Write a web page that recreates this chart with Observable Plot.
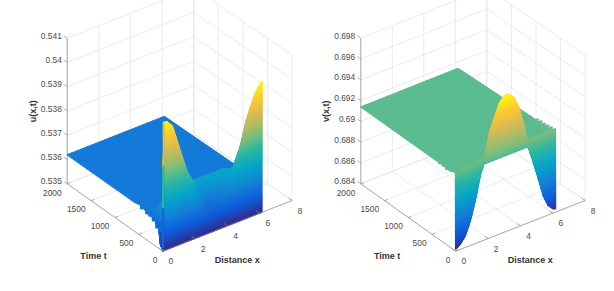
<!DOCTYPE html>
<html><head><meta charset="utf-8">
<script src="https://cdn.jsdelivr.net/npm/d3@7"></script>
<script src="https://cdn.jsdelivr.net/npm/@observablehq/plot@0.6"></script>
<style>
html,body{margin:0;padding:0;background:#fff}
#c{display:flex;width:614px;height:291px;overflow:hidden}
#c svg{display:block;flex:none}
</style></head><body><div id="c"></div>
<script>
const parula = ["#352A87","#0F5CDD","#1481D6","#06A4CA","#2EB7A4","#87BF77","#D1BB59","#FEC832","#F9FB0E"];
const xTicks = [0,2,4,6,8];
const tTicks = [0,500,1000,1500,2000];
const uTicks = [0.535,0.536,0.537,0.538,0.539,0.54,0.541];
const vTicks = [0.684,0.686,0.688,0.69,0.692,0.694,0.696,0.698];
const uTickText = ["0.535","0.536","0.537","0.538","0.539","0.54","0.541"];
const vTickText = ["0.684","0.686","0.688","0.69","0.692","0.694","0.696","0.698"];

const uX = [0,0.06,0.3,0.6,0.9,1.2,1.5,1.8,2.1,2.4,2.7,3,3.3,3.6,3.9,4.2,4.5,4.8,5.1,5.4,5.7,6,6.14];
const uT = [2000,600,450,300,220,150,85,50,8,1,0];
const u2000 = [.5362,.5362,.5362,.5362,.5362,.5362,.5362,.5362,.5362,.5362,.5362,.5362,.5362,.5362,.5362,.5362,.5362,.5362,.5362,.5362,.5362,.5362,.5362];
const u600  = [.5362,.5362,.5362,.5362,.5362,.5362,.5362,.5362,.5362,.5362,.5362,.5362,.5362,.5362,.5362,.5362,.5362,.5362,.5362,.5362,.5362,.5362,.5362];
const u450  = [.5363,.5362,.5362,.5362,.5362,.5362,.5362,.5362,.5363,.5363,.5363,.5363,.5363,.5363,.5363,.5363,.5362,.5362,.5362,.5362,.5362,.5362,.5362];
const u300  = [.5361,.5362,.5362,.5362,.5362,.5363,.5364,.5365,.5366,.5366,.5366,.5366,.5366,.5366,.5366,.5366,.5364,.5364,.5364,.5364,.5364,.5364,.5364];
const u220  = [.5361,.5363,.5364,.5365,.5366,.5367,.5367,.5368,.5369,.5369,.5369,.5369,.5369,.5369,.5369,.5369,.5367,.5367,.5367,.5367,.5367,.5367,.5367];
const u150  = [.5360,.5364,.5367,.5369,.5370,.5371,.5371,.5371,.5371,.5371,.5371,.5371,.5371,.5371,.5371,.5371,.5370,.5370,.5370,.5370,.5370,.5370,.5370];
const u85   = [.5358,.5366,.5369,.5371,.5371,.5371,.5371,.5371,.5369,.5366,.5364,.5363,.5364,.5366,.5368,.5370,.5370,.5370,.5370,.5370,.5370,.5370,.5370];
const u50   = [.5352,.5367,.5370,.5372,.5372,.5372,.5372,.5371,.5368,.5364,.5361,.5359,.5361,.5364,.5366,.5369,.5370,.5370,.5370,.5370,.5370,.5370,.5370];
const u8    = [.5351,.5368,.5372,.5375,.5375,.5374,.5372,.5370,.5366,.5362,.5358,.5356,.5358,.5362,.5365,.5368,.5370,.5370,.5370,.5370,.5370,.5370,.5370];
const u1    = [.5350,.5403,.54025,.5400,.5393,.5386,.5379,.5375,.5369,.5364,.5358,.5353,.5357,.5361,.5365,.5370,.5376,.5381,.5389,.5395,.5400,.5403,.5404];
const u0    = [.535,.535,.535,.535,.535,.535,.535,.535,.535,.535,.535,.535,.535,.535,.535,.535,.535,.535,.535,.535,.535,.535,.535];
// saw-tooth rim of the surface along x = 0
const uStairT = [670,570,465,360,290,220,150,85];
const uStairZ = [.5362,.5363,.5363,.5362,.5361,.5361,.5360,.5358];

const vX = [0,0.05,0.3,0.6,0.9,1.2,1.5,1.75,1.95,2.1,2.4,2.7,3,3.2,3.4,3.6,3.9,4.2,4.4,4.5,4.8,5.1,5.4,5.7,6,6.18];
const vT = [2000,250,100,40,3,0];
const v2000 = [.6914,.6914,.6914,.6914,.6914,.6914,.6914,.6914,.6914,.6914,.6914,.6914,.6914,.6914,.6914,.6914,.6914,.6914,.6914,.6914,.6914,.6914,.6914,.6914,.6914,.6914];
const v250  = [.6914,.6914,.6914,.6914,.6914,.6914,.6914,.6914,.6914,.6914,.6914,.6914,.6914,.6914,.6914,.6914,.6914,.6914,.6914,.6914,.6914,.6914,.6914,.6914,.6915,.6916];
const v100  = [.6914,.6914,.6914,.6915,.6915,.6915,.6915,.6915,.6915,.6915,.6915,.6915,.6915,.6915,.6915,.6915,.6915,.6915,.6915,.6915,.6915,.6915,.6915,.6915,.6916,.6917];
const v40   = [.6915,.6915,.6916,.6917,.6917,.6917,.6917,.6917,.6917,.6917,.6917,.6917,.6917,.6917,.6917,.6917,.6917,.6917,.6917,.6917,.6917,.6917,.6917,.6918,.6918,.6918];
const v3    = [.6916,.6916,.6917,.6918,.6918,.6918,.6918,.6918,.6930,.6942,.6954,.6966,.6971,.6972,.6969,.6966,.6955,.6937,.6922,.6920,.6920,.6920,.6920,.6920,.6920,.6920];
const v0    = [.6842,.6842,.6845,.6851,.6863,.6880,.6902,.6913,.6913,.6913,.6913,.6913,.6913,.6913,.6913,.6913,.6913,.6913,.6913,.6911,.6895,.6878,.6860,.6849,.6844,.6843];
const vStairT = [425,360,285,215,145,75];
const vStairZ = [.6915,.6915,.6914,.6914,.6913,.6914];
const vEndT = [400,330,260,190,120,50];
const vEndZ = [.69165,.6917,.6917,.69175,.6918,.6918];

const FONT = "'Liberation Sans', Arial, Helvetica, sans-serif";
const XMAX = 8, TMAX = 2000;

function panel(o) {
  const {X, T, rows, zTicks, zText, colorDomain, floor, zLabel, zLabelX, zTextX, timeLabel, distLabel, stairs} = o;
  const z0 = zTicks[0], zN = zTicks[zTicks.length-1];
  const zpx = 145.6 / (zN - z0);
  const P = (x,t,z) => {
    const a = x/XMAX, b = t/TMAX;
    const fx = (1-a)*(1-b)*floor.O[0] + a*(1-b)*floor.X[0] + (1-a)*b*floor.T[0] + a*b*floor.B[0];
    const fy = (1-a)*(1-b)*floor.O[1] + a*(1-b)*floor.X[1] + (1-a)*b*floor.T[1] + a*b*floor.B[1];
    return [fx, fy - (z - z0)*zpx];
  };
  const poly = [];
  let id = 0;
  for (let r = 0; r < T.length-1; r++) {
    for (let c = X.length-2; c >= 0; c--) {
      const t0=T[r], t1=T[r+1], x0=X[c], x1=X[c+1];
      const zz=[rows[r][c],rows[r][c+1],rows[r+1][c],rows[r+1][c+1]];
      const tall = (Math.max(...zz)-Math.min(...zz))*zpx;
      const n = Math.min(70, Math.ceil(tall/1.6)+1), m = tall>6 ? 3 : 1;
      for (let i=n-1;i>=0;i--) for (let j=m-1;j>=0;j--) {
        const f=(a,b)=>{const zv=(1-a)*(1-b)*zz[0]+a*(1-b)*zz[1]+(1-a)*b*zz[2]+a*b*zz[3];
          return {p:P(x0+(x1-x0)*a,t0+(t1-t0)*b,zv),z:zv};};
        const q=[f(j/m,i/n),f((j+1)/m,i/n),f((j+1)/m,(i+1)/n),f(j/m,(i+1)/n)];
        const zm=(q[0].z+q[1].z+q[2].z+q[3].z)/4;
        id++;
        for (const k of q) poly.push({id,sx:k.p[0],sy:k.p[1],z:zm});
      }
    }
  }
  // saw-tooth rims
  const steps=[];
  for (const s of stairs) for (let i=0;i<s.T.length-1;i++){
    const a=P(s.x,s.T[i],s.Z[i]), b=P(s.x,s.T[i+1],s.Z[i+1]);
    steps.push({x1:Math.min(a[0],b[0]),x2:Math.max(a[0],b[0]),y1:Math.min(a[1],b[1]),y2:Math.max(a[1],b[1]),z:(s.Z[i]+s.Z[i+1])/2});
  }
  const seg=(a,b)=>{const p=P(...a),q=P(...b);return {x1:p[0],y1:p[1],x2:q[0],y2:q[1]};};
  const grid=[];
  for (const x of xTicks){ grid.push(seg([x,0,z0],[x,TMAX,z0])); grid.push(seg([x,TMAX,z0],[x,TMAX,zN])); }
  for (const t of tTicks){ grid.push(seg([0,t,z0],[XMAX,t,z0])); grid.push(seg([XMAX,t,z0],[XMAX,t,zN])); }
  for (const z of zTicks){ grid.push(seg([0,TMAX,z],[XMAX,TMAX,z])); grid.push(seg([XMAX,TMAX,z],[XMAX,0,z])); }
  const axes=[seg([0,0,z0],[XMAX,0,z0]),seg([0,0,z0],[0,TMAX,z0]),seg([0,TMAX,z0],[0,TMAX,zN])];
  for (const x of xTicks) axes.push(seg([x,0,z0],[x,70,z0]));
  for (const t of tTicks) axes.push(seg([0,t,z0],[0.2,t,z0]));
  for (const z of zTicks) axes.push(seg([0,TMAX,z],[0,TMAX+70,z]));
  const labels=[];
  xTicks.forEach(x=>{const p=P(x,0,z0);labels.push({sx:p[0]+8,sy:p[1]+10.5,text:String(x),anchor:"middle"});});
  tTicks.forEach(t=>{const p=P(0,t,z0);labels.push({sx:p[0]-5.5,sy:p[1]+9,text:String(t),anchor:"end"});});
  zTicks.forEach((z,i)=>{const p=P(0,TMAX,z);labels.push({sx:zTextX,sy:p[1]-2.2,text:zText[i],anchor:"end"});});

  return Plot.plot({
    width:307,height:291,margin:0,
    style:{fontFamily:FONT,background:"#fff"},
    x:{domain:[0,307],range:[0,307],axis:null},
    y:{domain:[0,291],range:[0,291],axis:null},
    color:{type:"linear",domain:colorDomain,interpolate:d3.piecewise(d3.interpolateRgb,parula)},
    marks:[
      Plot.link(grid,{x1:"x1",y1:"y1",x2:"x2",y2:"y2",stroke:"#e3e3e3",strokeWidth:0.7}),
      Plot.rect(steps,{x1:"x1",x2:"x2",y1:"y1",y2:"y2",fill:"z"}),
      Plot.line(poly,{x:"sx",y:"sy",z:"id",fill:"z",stroke:"z",strokeWidth:1,curve:"linear-closed"}),
      Plot.link(axes,{x1:"x1",y1:"y1",x2:"x2",y2:"y2",stroke:"#8c8c8c",strokeWidth:0.7}),
      Plot.text(labels.filter(d=>d.anchor==="end"),{x:"sx",y:"sy",text:"text",textAnchor:"end",fontSize:8.4,fill:"#4a4a4a"}),
      Plot.text(labels.filter(d=>d.anchor==="middle"),{x:"sx",y:"sy",text:"text",textAnchor:"middle",fontSize:8.4,fill:"#4a4a4a"}),
      Plot.text([zLabel],{x:zLabelX,y:110.7,text:d=>d,rotate:-90,fontSize:9,fontWeight:"bold",fill:"#333"}),
      Plot.text(["Time t"],{x:timeLabel[0],y:timeLabel[1],text:d=>d,fontSize:9,fontWeight:"bold",fill:"#333"}),
      Plot.text(["Distance x"],{x:distLabel[0],y:distLabel[1],text:d=>d,fontSize:9,fontWeight:"bold",fill:"#333"})
    ]
  });
}
const host=document.getElementById("c");
host.append(panel({
  X:uX,T:uT,rows:[u2000,u600,u450,u300,u220,u150,u85,u50,u8,u1,u0],
  zTicks:uTicks,zText:uTickText,colorDomain:[0.535,0.5404],
  floor:{O:[162.3,250.7],X:[291.7,200],T:[66.7,183.3],B:[193.3,133.3]},
  zLabel:"u(x,t)",zLabelX:32.3,zTextX:61.3,timeLabel:[93,255.7],distLabel:[236.7,259.3],
  stairs:[{x:0,T:uStairT,Z:uStairZ}]
}));
host.append(panel({
  X:vX,T:vT,rows:[v2000,v250,v100,v40,v3,v0],
  zTicks:vTicks,zText:vTickText,colorDomain:[0.684,0.6972],
  floor:{O:[148.3,250.7],X:[277.7,200],T:[53.3,183.3],B:[179.3,133.3]},
  zLabel:"v(x,t)",zLabelX:18.3,zTextX:47.7,timeLabel:[79.7,255.7],distLabel:[222.7,259.3],
  stairs:[{x:0,T:vStairT,Z:vStairZ},{x:6.18,T:vEndT,Z:vEndZ}]
}));
</script></body></html>
